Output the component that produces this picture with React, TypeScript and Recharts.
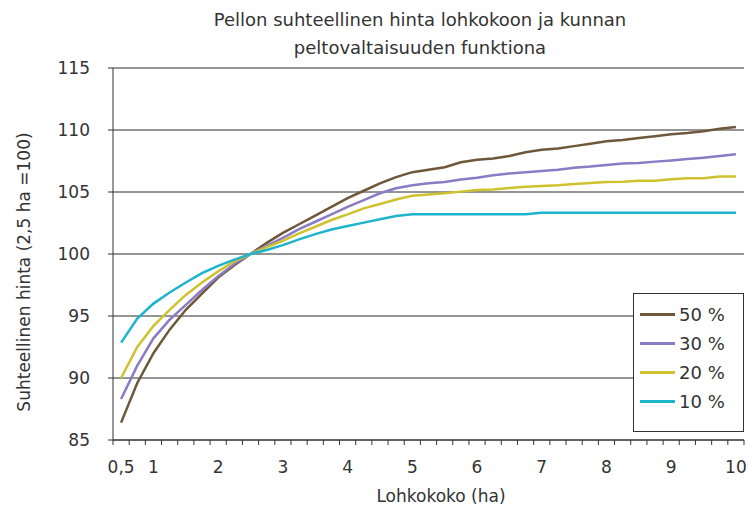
import React from 'react'
import { LineChart, Line, XAxis, YAxis, CartesianGrid } from 'recharts'

// field size (ha), one category every 0.25 ha
const X_CATS = [
  0.5, 0.75, 1, 1.25, 1.5, 1.75, 2, 2.25, 2.5, 2.75, 3, 3.25, 3.5, 3.75, 4, 4.25, 4.5, 4.75, 5, 5.25,
  5.5, 5.75, 6, 6.25, 6.5, 6.75, 7, 7.25, 7.5, 7.75, 8, 8.25, 8.5, 8.75, 9, 9.25, 9.5, 9.75, 10,
]
const X_LABELS = [0.5, 1, 2, 3, 4, 5, 6, 7, 8, 9, 10]
const Y_TICKS = [85, 90, 95, 100, 105, 110, 115]

const S50 = [
  86.4, 89.6, 92.0, 93.9, 95.5, 96.8, 98.1, 99.1, 100, 100.9, 101.7, 102.4, 103.1, 103.8, 104.5, 105.1,
  105.7, 106.2, 106.6, 106.8, 107.0, 107.4, 107.6, 107.7, 107.9, 108.2, 108.4, 108.5, 108.7, 108.9,
  109.1, 109.2, 109.35, 109.5, 109.65, 109.75, 109.9, 110.1, 110.25,
]
const S30 = [
  88.3, 91.0, 93.2, 94.7, 95.9, 97.1, 98.2, 99.2, 100, 100.65, 101.3, 102.0, 102.6, 103.2, 103.8, 104.35,
  104.9, 105.3, 105.55, 105.7, 105.8, 106.0, 106.15, 106.35, 106.5, 106.6, 106.7, 106.8, 106.95, 107.05,
  107.18, 107.3, 107.33, 107.45, 107.55, 107.66, 107.77, 107.9, 108.04,
]
const S20 = [
  90.0, 92.5, 94.2, 95.5, 96.7, 97.7, 98.6, 99.4, 100, 100.55, 101.07, 101.67, 102.2, 102.74, 103.2,
  103.68, 104.03, 104.4, 104.7, 104.8, 104.9, 105.03, 105.16, 105.2, 105.32, 105.43, 105.48, 105.54,
  105.65, 105.72, 105.8, 105.83, 105.91, 105.91, 106.02, 106.1, 106.1, 106.24, 106.24,
]
const S10 = [
  92.85, 94.8, 96.0, 96.9, 97.7, 98.45, 99.05, 99.55, 100, 100.32, 100.72, 101.18, 101.6, 101.98, 102.26,
  102.53, 102.8, 103.06, 103.2, 103.2, 103.2, 103.2, 103.2, 103.2, 103.2, 103.2, 103.33, 103.33, 103.33,
  103.33, 103.33, 103.33, 103.33, 103.33, 103.33, 103.33, 103.33, 103.33, 103.33,
]

const SERIES = [
  { key: 's50', name: '50 %', color: '#6f573a' },
  { key: 's30', name: '30 %', color: '#8b7ac4' },
  { key: 's20', name: '20 %', color: '#cfc22e' },
  { key: 's10', name: '10 %', color: '#1db4cd' },
]

const data = X_CATS.map((x, i) => ({ x, s50: S50[i], s30: S30[i], s20: S20[i], s10: S10[i] }))

// tick marks sit between categories, labels sit on them
const X_BOUNDS = [X_CATS[0] - 0.125, ...X_CATS.map((c) => c + 0.125)]
const X_TICKS = [...X_BOUNDS, ...X_LABELS].sort((a, b) => a - b)

const FONT = '"DejaVu Sans", Verdana, sans-serif'
const INK = '#333'

function XTick(props: any) {
  const { x, y, payload } = props
  const v = payload.value
  if (X_LABELS.includes(v)) {
    return (
      <text x={x} y={y + 33} textAnchor="middle" fill={INK} fontSize={17} fontFamily={FONT}>
        {String(v).replace('.', ',')}
      </text>
    )
  }
  return <line x1={x} y1={y} x2={x} y2={y + 5} stroke={INK} strokeWidth={1} />
}

function LegendBox() {
  return (
    <div
      style={{
        position: 'absolute',
        left: 633,
        top: 293,
        width: 111,
        height: 139,
        border: '1px solid #333',
        background: '#fff',
        boxSizing: 'border-box',
        fontFamily: FONT,
        fontSize: 18,
        color: INK,
        paddingTop: 6,
      }}
    >
      {SERIES.map((s) => (
        <div key={s.key} style={{ display: 'flex', alignItems: 'center', height: 29 }}>
          <span style={{ display: 'inline-block', width: 35, height: 3, background: s.color, marginLeft: 6, marginRight: 4 }} />
          <span>{s.name}</span>
        </div>
      ))}
    </div>
  )
}

export default function App() {
  return (
    <div style={{ position: 'absolute', left: 0, top: 0, width: 749, height: 510, background: '#fff' }}>
      <LineChart width={749} height={510} data={data} margin={{ top: 68, right: 5, bottom: 0, left: 0 }}>
        <CartesianGrid vertical={false} stroke="#2a2a2a" strokeWidth={1} />
        <XAxis
          dataKey="x"
          type="number"
          domain={[X_BOUNDS[0], X_BOUNDS[X_BOUNDS.length - 1]]}
          ticks={X_TICKS}
          interval={0}
          tick={<XTick />}
          tickLine={false}
          tickSize={0}
          tickMargin={0}
          height={70}
          axisLine={{ stroke: INK }}
        />
        <YAxis
          domain={[85, 115]}
          ticks={Y_TICKS}
          interval={0}
          width={113}
          tickSize={5}
          tickMargin={18}
          tick={{ fill: INK, fontSize: 17, fontFamily: FONT }}
          tickLine={{ stroke: INK }}
          axisLine={{ stroke: INK }}
        />
        {SERIES.map((s) => (
          <Line
            key={s.key}
            type="linear"
            dataKey={s.key}
            name={s.name}
            stroke={s.color}
            strokeWidth={2.5}
            dot={false}
            isAnimationActive={false}
          />
        ))}
      </LineChart>
      <LegendBox />
      <svg
        width={749}
        height={510}
        style={{ position: 'absolute', left: 0, top: 0, pointerEvents: 'none' }}
        fontFamily={FONT}
        fill={INK}
      >
        <text x={420} y={26} textAnchor="middle" fontSize={18}>
          Pellon suhteellinen hinta lohkokoon ja kunnan
        </text>
        <text x={420} y={54} textAnchor="middle" fontSize={18}>
          peltovaltaisuuden funktiona
        </text>
        <text x={441} y={502} textAnchor="middle" fontSize={17}>
          Lohkokoko (ha)
        </text>
        <text transform="translate(30,272) rotate(-90)" textAnchor="middle" fontSize={17}>
          Suhteellinen hinta (2,5 ha =100)
        </text>
      </svg>
    </div>
  )
}
